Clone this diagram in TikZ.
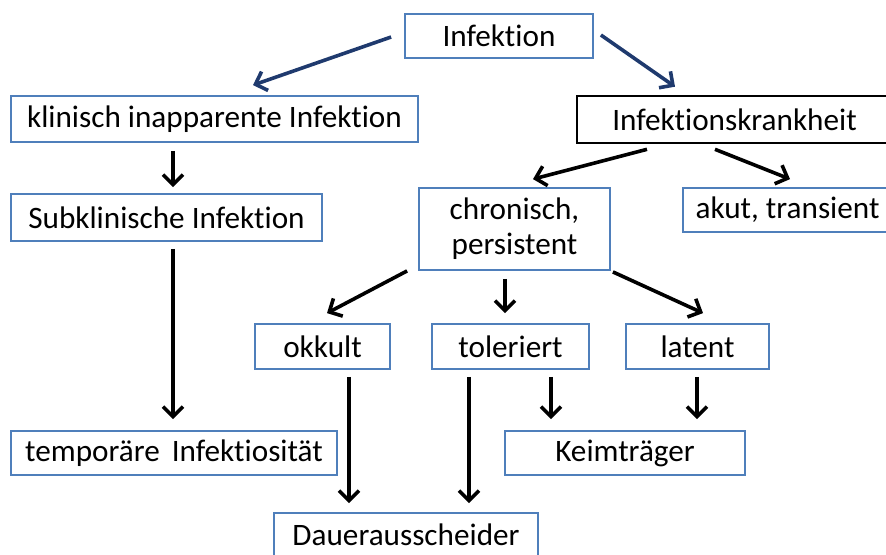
\documentclass[tikz,border=0pt]{standalone}
\usepackage{fontspec}
\setmainfont{Carlito}[Ligatures=NoCommon]
\usetikzlibrary{arrows.meta,calc}

\definecolor{boxblue}{HTML}{4F7FBB}
\definecolor{arrblue}{HTML}{1F3A6E}

\begin{document}
\begin{tikzpicture}[x=0.5pt,y=-0.5pt,
  box/.style={draw=boxblue,line width=0.9pt,fill=white,inner sep=0pt,
    font=\fontsize{15.6}{17.5}\selectfont,align=center},
  arr/.style={line width=1.8pt,-{Straight Barb[length=5pt,width=10pt]}},
  barr/.style={arr,draw=arrblue}]
\useasboundingbox (0,0) rectangle (886,554);
\clip (0,0) rectangle (886,554);

\node[box,minimum width=94pt,minimum height=22pt] (inf) at (499,36) {Infektion};

\node[box,minimum width=203.5pt,minimum height=23pt] (kli) at (214.5,119) {klinisch inapparente Infektion};
\node[box,minimum width=155.5pt,minimum height=23.5pt] (sub) at (166.5,217.5) {Subklinische Infektion};
\node[box,minimum width=163pt,minimum height=22pt] (temp) at (174,453) {temporäre\hspace{6pt}Infektiosität};

\node[box,draw=black,line width=1.3pt,minimum width=157.5pt,minimum height=23.5pt] (krank) at (734.5,119.5) {Infektionskrankheit};
\node[box,minimum width=95.5pt,minimum height=41pt] (chr) at (514.5,229) {chronisch,\\persistent};
\node[box,minimum width=104.5pt,minimum height=22pt] (akut) at (787.5,210) {akut, transient};

\node[box,minimum width=67.5pt,minimum height=22.5pt] (okk) at (322.5,346.5) {okkult};
\node[box,minimum width=78.5pt,minimum height=22.5pt] (tol) at (510.5,346.5) {toleriert};
\node[box,minimum width=71.5pt,minimum height=22.5pt] (lat) at (697.5,346.5) {latent};

\node[box,minimum width=120pt,minimum height=22pt] (keim) at (625,453) {Keimträger};
\node[box,minimum width=132pt,minimum height=23pt,text depth=0pt] (dauer) at (406,536) {\raisebox{1.5pt}{Dauerausscheider}};

%--------------------------------------------------------
\draw[barr] ($(inf.west)+(-13,1)$) -- ($(kli.north)+(38.5,-10)$);
\draw[barr] ($(inf.east)+(7,-1)$) -- ($(krank.north)+(-59.5,-8)$);

\draw[arr] ($(kli.south)+(-41.5,8)$) -- ($(sub.north)+(6.5,-6)$);
\draw[arr] ($(sub.south)+(6.5,7)$) -- ($(temp.north)+(-1,-11)$);

\draw[arr] ($(krank.south)+(-87.5,5)$) -- ($(chr.north)+(18.5,-8)$);
\draw[arr] ($(krank.south)+(-19.5,5)$) -- ($(akut.north)+(2.5,-8)$);

\draw[arr] ($(chr.south west)+(-11,0)$) -- ($(okk.north)+(4.5,-10)$);
\draw[arr] ($(chr.south)+(-9.5,8)$) -- ($(tol.north)+(-5.5,-10)$);
\draw[arr] ($(chr.south east)+(2,1)$) -- ($(lat.north)+(5.5,-10)$);

\draw[arr] ($(okk.south)+(26.5,7)$) -- ($(dauer.north)+(-57,-9)$);
\draw[arr] ($(tol.south)+(-41.5,7)$) -- ($(dauer.north)+(63,-9)$);
\draw[arr] ($(tol.south)+(40.5,7)$) -- ($(keim.north)+(-74,-11)$);
\draw[arr] ($(lat.south)+(-0.5,7)$) -- ($(keim.north)+(72,-11)$);
\end{tikzpicture}
\end{document}
